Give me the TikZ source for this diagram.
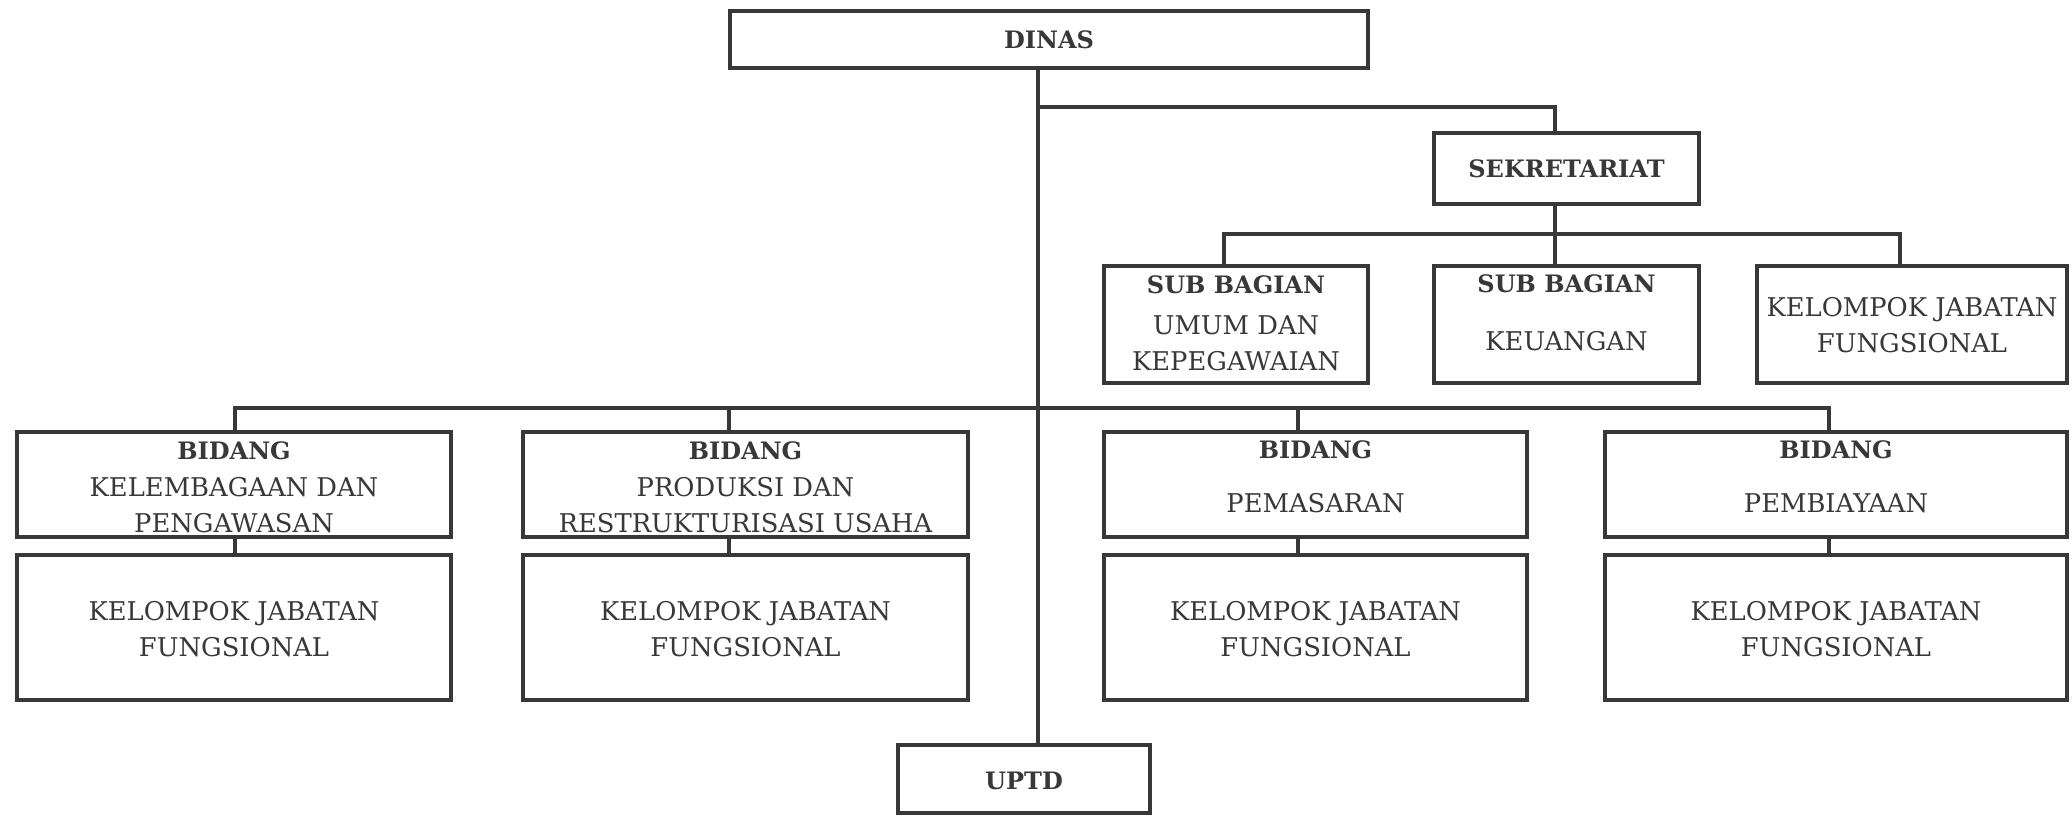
\documentclass[tikz,border=0pt]{standalone}
\usepackage{fontspec}
\setmainfont{DejaVu Serif}
\definecolor{ink}{HTML}{383838}
\newcommand\regf{\fontsize{12.9pt}{18pt}\selectfont}
\newcommand\hdf{\fontsize{12pt}{18pt}\selectfont\bfseries}
\newcommand\tb[2][0pt]{\begin{tabular}{@{}c@{}}\noalign{\vskip #1}#2\end{tabular}}
\newcommand\orgbox[6]{\node[box,minimum width={(#4-#2-4)*0.5pt},minimum height={(#5-#3-4)*0.5pt}] (#1) at ({(#2+#4)/2},{(#3+#5)/2}) {#6};}
\tikzset{
  box/.style={draw=ink, line width=2.3pt, inner sep=0pt, text=ink, align=center, font=\regf},
  conn/.style={draw=ink, line width=2.1pt}
}
\begin{document}
\begin{tikzpicture}[x=0.5pt,y=-0.5pt]
\useasboundingbox (0,0) rectangle (2072,816);
\fill[white] (0,0) rectangle (2072,816);
% boxes
\orgbox{dinas}{728}{9}{1370}{70}{{\hdf DINAS}}
\orgbox{sek}{1432}{131}{1701}{206}{\tb[1.5pt]{\hdf SEKRETARIAT}}
\orgbox{umum}{1102}{264}{1370}{385}{\tb{{\hdf SUB BAGIAN}\\[2.5pt] UMUM DAN\\ KEPEGAWAIAN}}
\orgbox{keu}{1432}{264}{1701}{385}{\tb{{\hdf SUB BAGIAN}\\[11pt] KEUANGAN\\[10.3pt]}}
\orgbox{kjfs}{1755}{264}{2069}{385}{\tb[2.6pt]{KELOMPOK JABATAN\\ FUNGSIONAL}}
\orgbox{b1}{15}{430}{453}{539}{\tb[1pt]{{\hdf BIDANG}\\[0.4pt] KELEMBAGAAN DAN\\ PENGAWASAN\\[-3.2pt]}}
\orgbox{b2}{521}{430}{970}{539}{\tb[1pt]{{\hdf BIDANG}\\[0.4pt] PRODUKSI DAN\\ RESTRUKTURISASI USAHA\\[-3.2pt]}}
\orgbox{b3}{1102}{430}{1529}{539}{\tb{{\hdf BIDANG}\\[9pt] PEMASARAN\\[6.3pt]}}
\orgbox{b4}{1603}{430}{2069}{539}{\tb{{\hdf BIDANG}\\[9pt] PEMBIAYAAN\\[6.3pt]}}
\orgbox{k1}{15}{553}{453}{702}{\tb[4pt]{KELOMPOK JABATAN\\ FUNGSIONAL}}
\orgbox{k2}{521}{553}{970}{702}{\tb[4pt]{KELOMPOK JABATAN\\ FUNGSIONAL}}
\orgbox{k3}{1102}{553}{1529}{702}{\tb[4pt]{KELOMPOK JABATAN\\ FUNGSIONAL}}
\orgbox{k4}{1603}{553}{2069}{702}{\tb[4pt]{KELOMPOK JABATAN\\ FUNGSIONAL}}
\orgbox{uptd}{896}{743}{1152}{815}{\tb[3pt]{\hdf UPTD}}
% connector positions
\coordinate (tk) at (1038,0);
\coordinate (sx) at (1555,0);
\coordinate (ux) at (1224,0);
\coordinate (kx) at (1900,0);
\coordinate (c1) at (235,0);
\coordinate (c2) at (729,0);
\coordinate (c3) at (1298,0);
\coordinate (c4) at (1829,0);
\coordinate (r1) at (0,107);
\coordinate (r2) at (0,234);
\coordinate (r3) at (0,408);
% connectors
\draw[conn] (dinas.south -| tk) -- (uptd.north -| tk);
\draw[conn] (tk |- r1) -| (sek.north -| sx);
\draw[conn] (sek.south -| sx) -- (keu.north -| sx);
\draw[conn] (umum.north -| ux) -- (ux |- r2) -- (kx |- r2) -- (kjfs.north -| kx);
\draw[conn] (b1.north -| c1) -- (c1 |- r3) -- (c4 |- r3) -- (b4.north -| c4);
\draw[conn] (b2.north -| c2) -- (c2 |- r3);
\draw[conn] (b3.north -| c3) -- (c3 |- r3);
\draw[conn] (b1.south -| c1) -- (k1.north -| c1);
\draw[conn] (b2.south -| c2) -- (k2.north -| c2);
\draw[conn] (b3.south -| c3) -- (k3.north -| c3);
\draw[conn] (b4.south -| c4) -- (k4.north -| c4);
\end{tikzpicture}
\end{document}
